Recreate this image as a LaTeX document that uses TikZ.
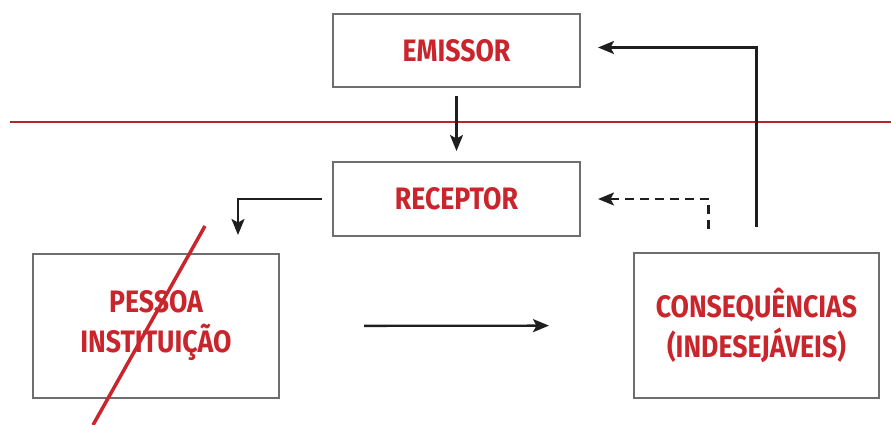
\documentclass[tikz,border=0pt]{standalone}
\usepackage{fontspec}
\newfontfamily\boxfont{Fira Sans}[FakeStretch=0.86]
\usetikzlibrary{arrows.meta}

\definecolor{boxred}{HTML}{C8262C}
\definecolor{linered}{HTML}{B0282A}
\definecolor{boxgray}{HTML}{6E6E6E}
\definecolor{arrowblack}{HTML}{1E1E1E}

\tikzset{
    block/.style={draw=boxgray, line width=2pt, fill=white, inner sep=0pt,
        align=center, text=boxred,
        font=\boxfont\bfseries\fontsize{31}{40}\selectfont},
    flow/.style={draw=arrowblack, line width=2.3pt,
        -{Stealth[length=16pt,width=13pt,inset=3.5pt]}},
}

\begin{document}
\begin{tikzpicture}[x=1pt, y=-1pt]
    \useasboundingbox (0,0) rectangle (891,425);

    % Draw the four boxes
    \node[block, minimum width=247, minimum height=73] (emissor) at (456.5,50.5) {EMISSOR};
    \node[block, minimum width=247, minimum height=74] (receptor) at (456.5,199) {RECEPTOR};
    \node[block, minimum width=246, minimum height=144] (pessoa) at (156,326) {PESSOA\\INSTITUIÇÃO};
    \node[block, minimum width=245, minimum height=145] (consequencias) at (756.5,325.5) {CONSEQUÊNCIAS\\(INDESEJÁVEIS)};

    % Draw the horizontal red line
    \draw[linered, line width=2pt] (10,122) -- (891,122);

    % Draw the arrows between the boxes
    \draw[flow, shorten <=8pt, shorten >=10pt] (emissor.south) -- (receptor.north);
    \draw[flow, shorten <=10pt] (receptor.west) -| ([xshift=-42pt, yshift=18pt]pessoa.north east);
    \draw[flow, shorten <=84pt, shorten >=84pt] (pessoa.east) -- (consequencias.west);
    \draw[flow, shorten <=25pt, shorten >=17pt] (consequencias.north) |- ([yshift=3pt]emissor.east);
    \draw[flow, dashed, dash pattern=on 9pt off 6pt, shorten >=17pt] ([xshift=-48pt, yshift=23pt]consequencias.north) |- (receptor.east);

    % Cross out the person box
    \draw[boxred, line width=3.5pt] (205,226) -- (93,425);

\end{tikzpicture}
\end{document}
